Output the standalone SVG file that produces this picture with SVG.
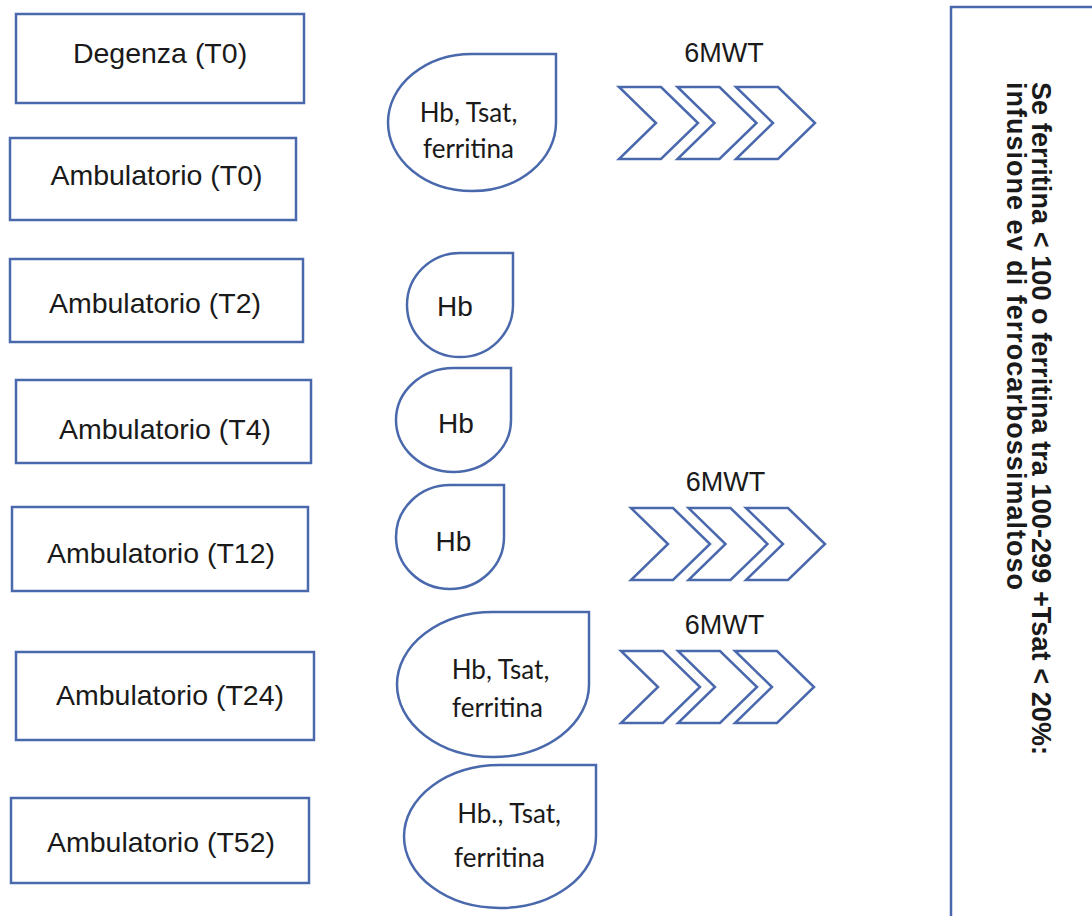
<svg xmlns="http://www.w3.org/2000/svg" xmlns:xlink="http://www.w3.org/1999/xlink" width="1092" height="916" viewBox="0 0 1092 916">
  <style>
    .box { fill: #ffffff; stroke: #4a69ad; stroke-width: 2.5; }
    .drop { fill: #ffffff; stroke: #4a69ad; stroke-width: 2.5; }
    .chev { fill: #ffffff; stroke: #4a69ad; stroke-width: 2.5; stroke-linejoin: miter; }
    .lbl { font-family: "Liberation Sans", Arial, sans-serif; font-size: 28.5px; fill: #1a1a1a; text-anchor: middle; }
    .hb { font-family: "Liberation Sans", Arial, sans-serif; font-size: 28px; fill: #1a1a1a; text-anchor: middle; }
    .lab { font-family: Lato, "Open Sans", sans-serif; font-size: 26px; fill: #1a1a1a; text-anchor: middle; }
    .mwt { font-family: "Liberation Sans", Arial, sans-serif; font-size: 27px; fill: #1a1a1a; text-anchor: middle; }
    .note { font-family: "Liberation Sans", Arial, sans-serif; font-size: 27px; font-weight: bold; fill: #1a1a1a; }
  </style>
  <defs>
    <!-- single chevron, top-left corner at origin -->
    <path id="chevron" class="chev" d="M0,0 L42,0 L79,36 L42,72 L0,72 L37,36 Z"/>
  </defs>

  <rect width="1092" height="916" fill="#ffffff"/>

  <!-- visit boxes -->
  <g id="degenza-t0">
    <rect class="box" x="16" y="14" width="288" height="89"/>
    <text class="lbl" x="160" y="63">Degenza (T0)</text>
  </g>
  <g id="ambulatorio-t0">
    <rect class="box" x="10" y="138" width="286" height="82"/>
    <text class="lbl" x="156.5" y="185">Ambulatorio (T0)</text>
  </g>
  <g id="ambulatorio-t2">
    <rect class="box" x="10" y="259" width="293" height="83"/>
    <text class="lbl" x="155" y="313">Ambulatorio (T2)</text>
  </g>
  <g id="ambulatorio-t4">
    <rect class="box" x="16" y="380" width="295" height="83"/>
    <text class="lbl" x="165" y="439">Ambulatorio (T4)</text>
  </g>
  <g id="ambulatorio-t12">
    <rect class="box" x="12" y="507" width="296" height="84"/>
    <text class="lbl" x="161" y="563">Ambulatorio (T12)</text>
  </g>
  <g id="ambulatorio-t24">
    <rect class="box" x="16" y="652" width="298" height="88"/>
    <text class="lbl" x="170" y="705">Ambulatorio (T24)</text>
  </g>
  <g id="ambulatorio-t52">
    <rect class="box" x="11" y="798" width="298" height="85"/>
    <text class="lbl" x="161" y="852">Ambulatorio (T52)</text>
  </g>

  <!-- lab test teardrops -->
  <g id="lab-t0">
    <path class="drop" d="M472,54 L556,54 L556,122.5 A84,68.5 0 0 1 472,191 A84,68.5 0 0 1 388,122.5 A84,68.5 0 0 1 472,54 Z"/>
    <text class="lab" x="468.5" y="122">Hb, Tsat,</text>
    <text class="lab" x="468.5" y="158">ferritina</text>
  </g>
  <g id="lab-t2">
    <path class="drop" d="M460,253 L513,253 L513,305 A53,52 0 0 1 460,357 A53,52 0 0 1 407,305 A53,52 0 0 1 460,253 Z"/>
    <text class="hb" x="455" y="316">Hb</text>
  </g>
  <g id="lab-t4">
    <path class="drop" d="M453.5,368 L511,368 L511,420 A57.5,52 0 0 1 453.5,472 A57.5,52 0 0 1 396,420 A57.5,52 0 0 1 453.5,368 Z"/>
    <text class="hb" x="456" y="433">Hb</text>
  </g>
  <g id="lab-t12">
    <path class="drop" d="M450,485 L504,485 L504,537 A54,52 0 0 1 450,589 A54,52 0 0 1 396,537 A54,52 0 0 1 450,485 Z"/>
    <text class="hb" x="453.5" y="551">Hb</text>
  </g>
  <g id="lab-t24">
    <path class="drop" d="M493,612 L589,612 L589,684.5 A96,72.5 0 0 1 493,757 A96,72.5 0 0 1 397,684.5 A96,72.5 0 0 1 493,612 Z"/>
    <text class="lab" x="500.5" y="679">Hb, Tsat,</text>
    <text class="lab" x="497.5" y="717">ferritina</text>
  </g>
  <g id="lab-t52">
    <path class="drop" d="M500,765 L596,765 L596,836.5 A96,71.5 0 0 1 500,908 A96,71.5 0 0 1 404,836.5 A96,71.5 0 0 1 500,765 Z"/>
    <text class="lab" x="509" y="823">Hb., Tsat,</text>
    <text class="lab" x="499.5" y="867">ferritina</text>
  </g>

  <!-- six-minute walk test markers -->
  <g id="walk-t0">
    <text class="mwt" x="724" y="62">6MWT</text>
    <use xlink:href="#chevron" href="#chevron" x="619" y="87"/>
    <use xlink:href="#chevron" href="#chevron" x="677.5" y="87"/>
    <use xlink:href="#chevron" href="#chevron" x="736" y="87"/>
  </g>
  <g id="walk-t12">
    <text class="mwt" x="725.5" y="491">6MWT</text>
    <use xlink:href="#chevron" href="#chevron" x="631" y="508"/>
    <use xlink:href="#chevron" href="#chevron" x="688.5" y="508"/>
    <use xlink:href="#chevron" href="#chevron" x="746" y="508"/>
  </g>
  <g id="walk-t24">
    <text class="mwt" x="724.5" y="634">6MWT</text>
    <use xlink:href="#chevron" href="#chevron" x="621" y="651"/>
    <use xlink:href="#chevron" href="#chevron" x="678" y="651"/>
    <use xlink:href="#chevron" href="#chevron" x="735" y="651"/>
  </g>

  <!-- iron therapy rule panel -->
  <g id="iron-rule">
    <path class="box" d="M1094,7 L951,7 L951,918" fill="none"/>
    <text class="note" transform="translate(1032,82) rotate(90)" textLength="673" lengthAdjust="spacing">Se ferritina &lt; 100 o ferritina tra 100-299 +Tsat &lt; 20%:</text>
    <text class="note" transform="translate(1007,82) rotate(90)" textLength="508" lengthAdjust="spacing">infusione ev di ferrocarbossimaltoso</text>
  </g>

  <g id="connectors"/>
</svg>
